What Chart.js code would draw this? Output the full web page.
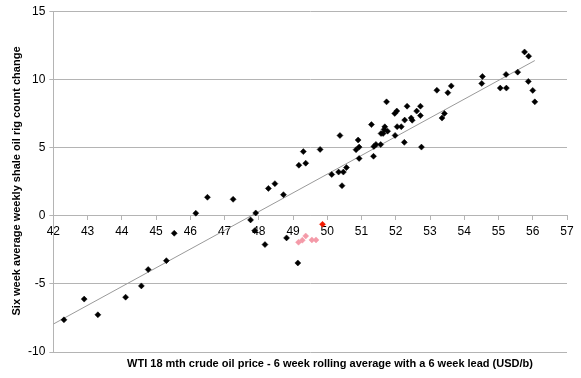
<!DOCTYPE html>
<html>
<head>
<meta charset="utf-8">
<script src="https://cdn.jsdelivr.net/npm/chart.js@4/dist/chart.umd.min.js"></script>
<style>
html,body{margin:0;padding:0;background:#fff;}
#wrap{width:581px;height:378px;}
</style>
</head>
<body>
<div id="wrap"><canvas id="c" width="581" height="378"></canvas></div>
<script>
const xTitle = 'WTI 18 mth crude oil price - 6 week rolling average with a 6 week lead (USD/b)';
const yTitle = 'Six week average weekly shale oil rig count change';

const blackX = [42.31,42.90,43.30,44.11,44.57,44.77,45.30,45.53,46.16,46.50,47.25,47.76,47.91,47.88,48.18,48.28,48.47,48.72,48.81,49.14,49.17,49.37,49.30,49.79,50.13,50.33,50.47,50.56,50.43,50.37,50.84,50.90,50.93,50.93,51.29,51.36,51.42,51.35,51.56,51.73,51.57,51.63,51.68,51.66,51.76,51.97,52.03,52.04,52.16,51.98,52.25,52.26,52.33,52.45,52.48,52.61,52.72,52.72,52.75,53.20,53.52,53.62,53.35,53.42,54.51,54.53,55.05,55.23,55.22,55.56,55.76,55.88,55.87,56.00,56.06];
const blackY = [-7.64,-6.12,-7.27,-5.98,-5.15,-3.95,-3.30,-1.29,0.18,1.35,1.20,-0.31,0.20,-1.10,-2.12,2.00,2.35,1.54,-1.63,-3.47,3.70,3.85,4.70,4.86,3.02,3.20,3.20,3.53,2.20,5.88,4.84,5.55,5.03,4.20,6.68,5.08,5.23,4.36,5.22,8.35,6.03,6.03,6.52,6.33,6.20,7.50,7.68,6.53,6.53,5.89,5.38,7.01,8.03,7.17,7.00,7.67,8.03,7.34,5.03,9.20,9.02,9.52,7.16,7.50,9.70,10.21,9.36,9.36,10.36,10.53,12.01,11.70,9.85,9.19,8.35];
const pinkX = [49.16,49.27,49.37,49.55,49.67];
const pinkY = [-1.95,-1.80,-1.49,-1.78,-1.78];
const redX = [49.86];
const redY = [-0.63];
const trendX = [42.0,56.06];
const trendY = [-7.95,11.38];

const xTicks = [42,43,44,45,46,47,48,49,50,51,52,53,54,55,56,57];
const yTicks = [-10,-5,0,5,10,15];

const pts = (xs, ys) => xs.map((x,i)=>({x:x,y:ys[i]}));
const FONT = "'Liberation Sans',Arial,sans-serif";

const axisTitles = {
  id:'axisTitles',
  afterDraw(chart){
    const ctx = chart.ctx;
    ctx.save();
    ctx.fillStyle = '#000';
    ctx.font = "bold 11px " + FONT;
    ctx.textAlign = 'center';
    ctx.textBaseline = 'middle';
    ctx.fillText(xTitle, 330, 364);
    ctx.translate(17, 181);
    ctx.rotate(-Math.PI/2);
    ctx.fillText(yTitle, 0, 0);
    ctx.restore();
  }
};

new Chart(document.getElementById('c'), {
  type: 'scatter',
  data: {
    datasets: [
      {data: pts(blackX, blackY), pointStyle:'rectRot', pointRadius:3, backgroundColor:'#000', borderColor:'#000', borderWidth:0.5, order:1},
      {data: pts(pinkX, pinkY), pointStyle:'rectRot', pointRadius:3, backgroundColor:'#f49aa8', borderColor:'#f49aa8', borderWidth:0.5, order:1},
      {data: pts(redX, redY), pointStyle:'rectRot', pointRadius:3, backgroundColor:'#f21a00', borderColor:'#f21a00', borderWidth:0.5, order:1},
      {type:'line', data: pts(trendX, trendY), borderColor:'#9a9a9a', borderWidth:1, pointRadius:0, fill:false, order:2}
    ]
  },
  options: {
    responsive:false,
    animation:false,
    events:[],
    layout:{padding:{top:5,right:14,left:24,bottom:26}},
    plugins:{
      legend:{display:false},
      tooltip:{enabled:false},
      title:{display:false},
      subtitle:{display:false}
    },
    scales:{
      x:{
        type:'linear', min:42, max:57, position:{y:0},
        afterBuildTicks:(s)=>{s.ticks = xTicks.map(v=>({value:v}));},
        grid:{drawOnChartArea:false, drawTicks:true, tickLength:4, color:'#b4b4b4'},
        border:{color:'#b4b4b4', width:1},
        ticks:{color:'#000', font:{family:FONT, size:12}, padding:5, maxRotation:0, autoSkip:false}
      },
      y:{
        type:'linear', min:-10, max:15,
        afterBuildTicks:(s)=>{s.ticks = yTicks.map(v=>({value:v}));},
        grid:{color:'#b4b4b4', lineWidth:1, drawTicks:true, tickLength:4},
        border:{color:'#b4b4b4', width:1},
        ticks:{color:'#000', font:{family:FONT, size:12}, padding:4}
      }
    }
  },
  plugins:[axisTitles]
});
</script>
</body>
</html>
